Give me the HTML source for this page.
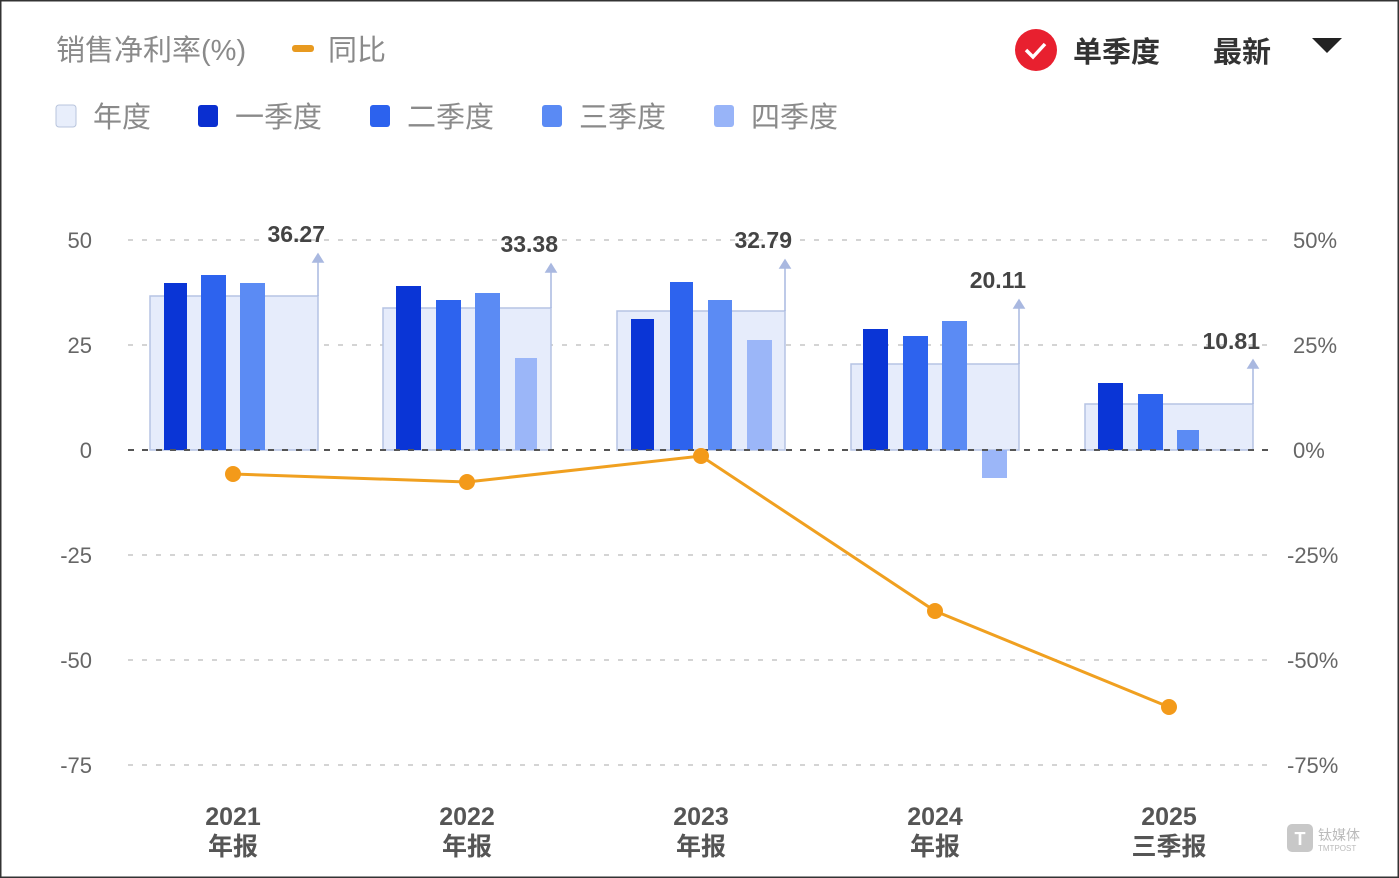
<!DOCTYPE html>
<html><head><meta charset="utf-8"><style>
body{margin:0;background:#fff;}
svg{display:block;font-family:"Liberation Sans","Noto Sans CJK SC",sans-serif;}
</style></head><body>
<svg width="1399" height="878" viewBox="0 0 1399 878">
<rect x="0.5" y="0.5" width="1398" height="877" fill="#fff" stroke="#333" stroke-width="2"/>
<g fill="#8a8a8a" font-size="29">
<text x="56" y="60">销售净利率(%)</text>
<rect x="292" y="45" width="22" height="7" rx="3" fill="#e89a20"/>
<text x="328" y="60">同比</text>
<rect x="56" y="105" width="20" height="22" rx="3" fill="#e8eefb" stroke="#b8c4dc"/>
<text x="93" y="127">年度</text>
<rect x="198" y="105" width="20" height="22" rx="3" fill="#0a2fd0"/>
<text x="235" y="127">一季度</text>
<rect x="370" y="105" width="20" height="22" rx="3" fill="#2c62ee"/>
<text x="407" y="127">二季度</text>
<rect x="542" y="105" width="20" height="22" rx="3" fill="#5a8af4"/>
<text x="579" y="127">三季度</text>
<rect x="714" y="105" width="20" height="22" rx="3" fill="#98b4f8"/>
<text x="751" y="127">四季度</text>
</g>
<circle cx="1036" cy="50" r="21" fill="#e8202f"/>
<path d="M1026 50 l7 7 l12 -13" stroke="#fff" stroke-width="3.5" fill="none"/>
<text x="1073" y="62" font-size="29" font-weight="bold" fill="#333">单季度</text>
<text x="1213" y="62" font-size="29" font-weight="bold" fill="#333">最新</text>
<path d="M1312 38 h30 l-15 15z" fill="#222"/>
<g stroke="#d4d4d4" stroke-width="2" stroke-dasharray="5 9">
<line x1="128" y1="240" x2="1275" y2="240"/><line x1="128" y1="345" x2="1275" y2="345"/>
<line x1="128" y1="555" x2="1275" y2="555"/><line x1="128" y1="660" x2="1275" y2="660"/><line x1="128" y1="765" x2="1275" y2="765"/>
</g>
<g fill="#666" font-size="22">
<g text-anchor="end"><text x="92" y="248">50</text><text x="92" y="353">25</text><text x="92" y="458">0</text><text x="92" y="563">-25</text><text x="92" y="668">-50</text><text x="92" y="773">-75</text></g>
<text x="1293" y="248">50%</text><text x="1293" y="353">25%</text><text x="1293" y="458">0%</text><text x="1287" y="563">-25%</text><text x="1287" y="668">-50%</text><text x="1287" y="773">-75%</text>
</g>
<g fill="#e6ecfb" stroke="#b5c3e4" stroke-width="1.5">
<rect x="150" y="296" width="168" height="154"/><rect x="383" y="308" width="168" height="142"/>
<rect x="617" y="311" width="168" height="139"/><rect x="851" y="364" width="168" height="86"/>
<rect x="1085" y="404" width="168" height="46"/>
</g>
<g fill="#0a35d6"><rect x="164" y="283" width="23" height="167"/><rect x="396" y="286" width="25" height="164"/><rect x="631" y="319" width="23" height="131"/><rect x="863" y="329" width="25" height="121"/><rect x="1098" y="383" width="25" height="67"/></g>
<g fill="#2d63ee"><rect x="201" y="275" width="25" height="175"/><rect x="436" y="300" width="25" height="150"/><rect x="670" y="282" width="23" height="168"/><rect x="903" y="336" width="25" height="114"/><rect x="1138" y="394" width="25" height="56"/></g>
<g fill="#5b8bf4"><rect x="240" y="283" width="25" height="167"/><rect x="475" y="293" width="25" height="157"/><rect x="708" y="300" width="24" height="150"/><rect x="942" y="321" width="25" height="129"/><rect x="1177" y="430" width="22" height="20"/></g>
<g fill="#9bb6f8"><rect x="515" y="358" width="22" height="92"/><rect x="747" y="340" width="25" height="110"/><rect x="982" y="450" width="25" height="28"/></g>
<line x1="128" y1="450" x2="1275" y2="450" stroke="#555" stroke-width="2" stroke-dasharray="6 8"/>
<g stroke="#a9b8e0" stroke-width="1.5" fill="#a9b8e0">
<line x1="318" y1="296" x2="318" y2="258"/><path d="M313 262 l5 -8 l5 8z"/>
<line x1="551" y1="308" x2="551" y2="268"/><path d="M546 272 l5 -8 l5 8z"/>
<line x1="785" y1="311" x2="785" y2="264"/><path d="M780 268 l5 -8 l5 8z"/>
<line x1="1019" y1="364" x2="1019" y2="304"/><path d="M1014 308 l5 -8 l5 8z"/>
<line x1="1253" y1="404" x2="1253" y2="364"/><path d="M1248 368 l5 -8 l5 8z"/>
</g>
<g fill="#444" font-size="23" font-weight="bold" text-anchor="end">
<text x="325" y="242">36.27</text><text x="558" y="252">33.38</text><text x="792" y="248">32.79</text><text x="1026" y="288">20.11</text><text x="1260" y="349">10.81</text>
</g>
<polyline points="233,474 467,482 701,456 935,611 1169,707" fill="none" stroke="#f0a020" stroke-width="3"/>
<g fill="#f39a1a"><circle cx="233" cy="474" r="8"/><circle cx="467" cy="482" r="8"/><circle cx="701" cy="456" r="8"/><circle cx="935" cy="611" r="8"/><circle cx="1169" cy="707" r="8"/></g>
<g fill="#555" font-size="25" font-weight="bold" text-anchor="middle">
<text x="233" y="825">2021</text><text x="233" y="855">年报</text>
<text x="467" y="825">2022</text><text x="467" y="855">年报</text>
<text x="701" y="825">2023</text><text x="701" y="855">年报</text>
<text x="935" y="825">2024</text><text x="935" y="855">年报</text>
<text x="1169" y="825">2025</text><text x="1169" y="855">三季报</text>
</g>
<rect x="1287" y="824" width="26" height="28" rx="5" fill="#c8c8c8"/>
<text x="1300" y="845" font-size="18" fill="#fff" text-anchor="middle" font-weight="bold">T</text>
<text x="1318" y="840" font-size="14" fill="#bbb">钛媒体</text>
<text x="1318" y="851" font-size="8" fill="#bbb">TMTPOST</text>
</svg>
</body></html>
